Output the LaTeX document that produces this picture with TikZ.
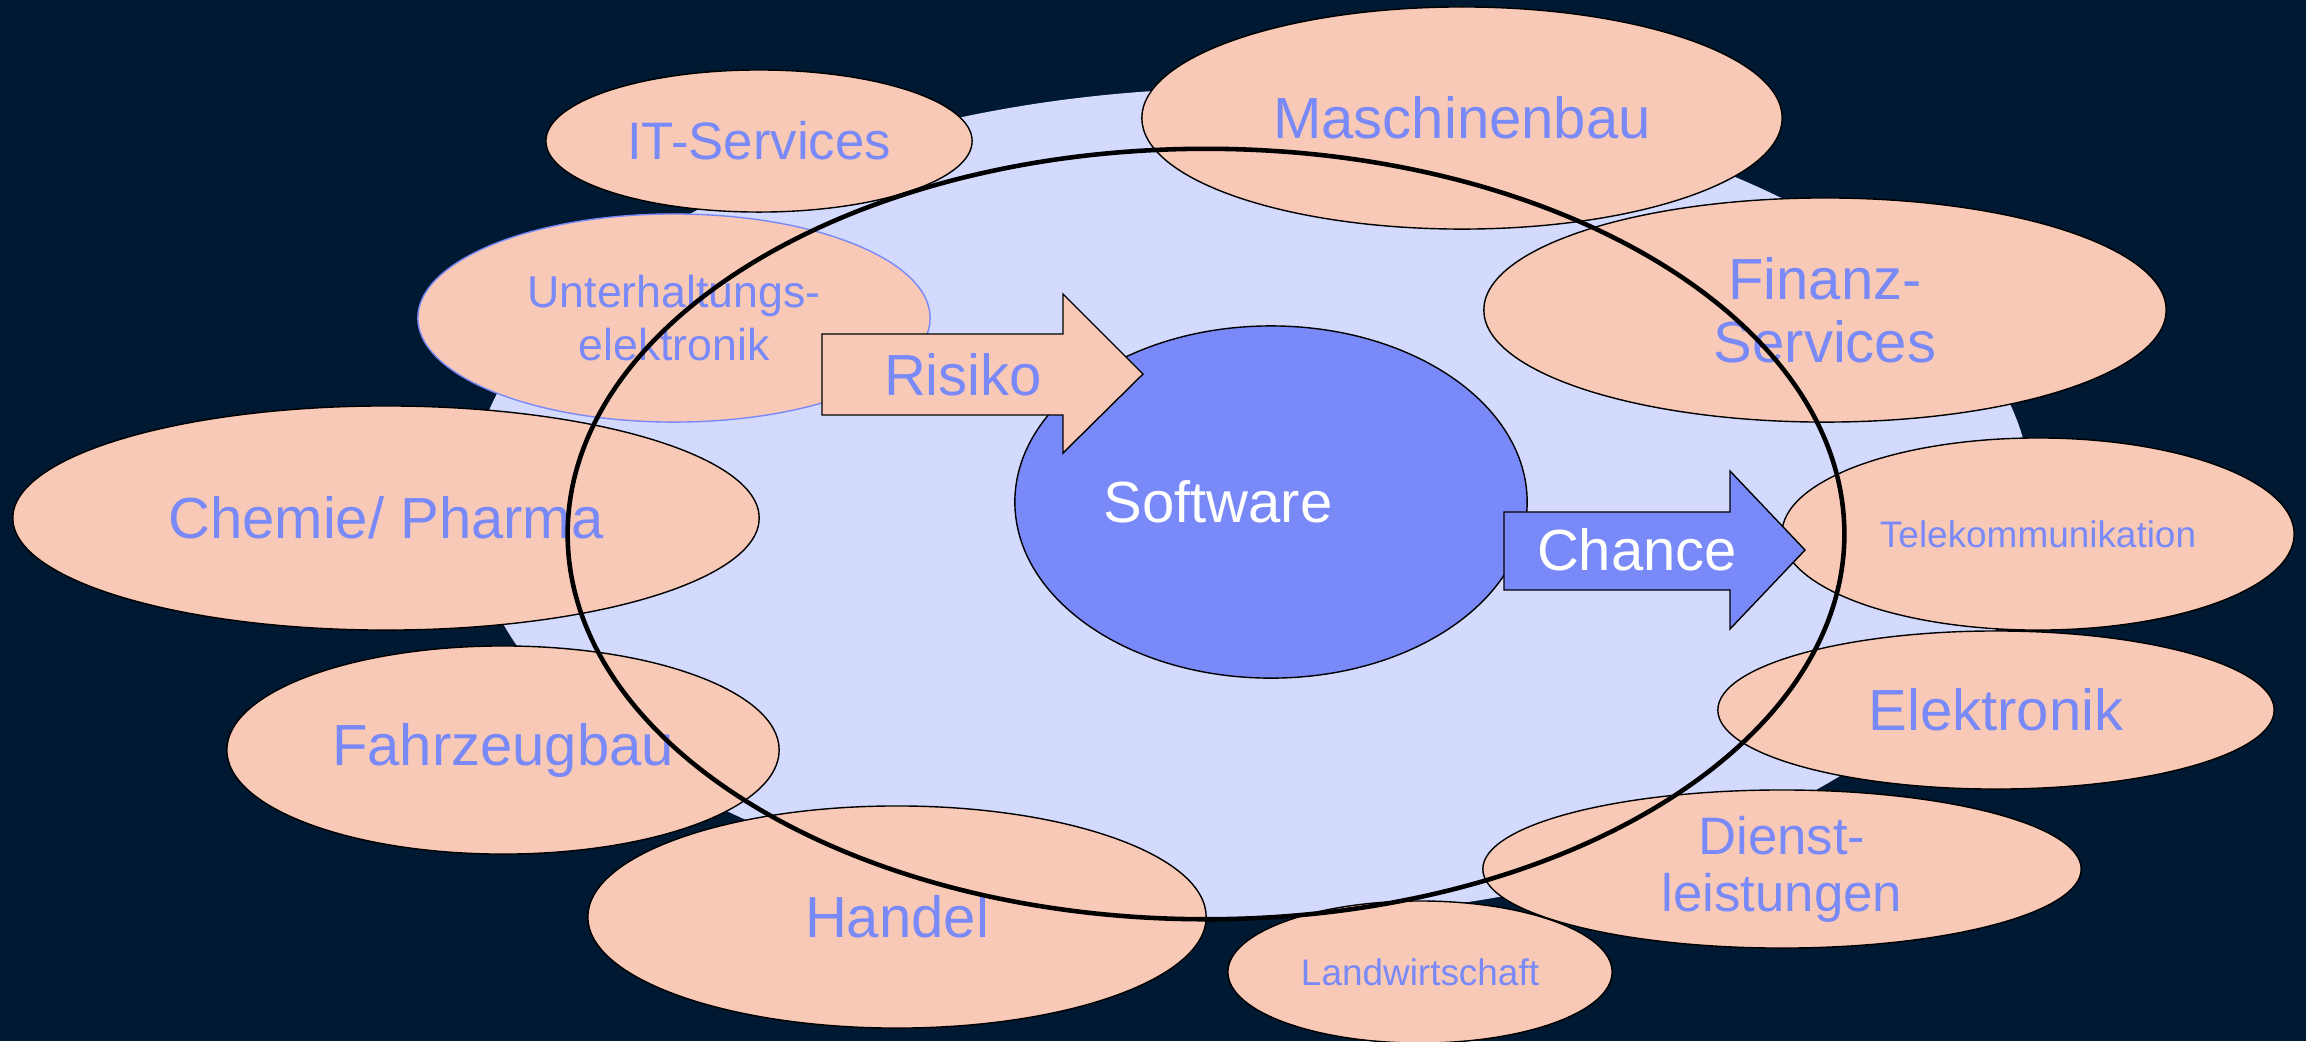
\documentclass[tikz,border=0pt]{standalone}
\usepackage{fontspec}
\setmainfont{Liberation Sans}
\usepackage{tikz}
\usetikzlibrary{shapes.geometric}
\usepackage{xcolor}

\definecolor{navy}{RGB}{0,25,51}
\definecolor{paleblue}{RGB}{212,218,254}
\definecolor{peach}{RGB}{248,201,182}
\definecolor{periwinkle}{RGB}{121,138,248}

\tikzset{
  branche/.style={ellipse, draw=black, thin, fill=peach, text=periwinkle, inner sep=0pt, align=center},
  big/.style={font=\fontsize{16.5}{18}\selectfont},
  mid/.style={font=\fontsize{15}{16.2}\selectfont},
  tiny/.style={font=\fontsize{10.5}{12}\selectfont},
  pfeil/.style={draw=black, thin, line join=miter}
}

\begin{document}
\begin{tikzpicture}[x=0.01cm, y=-0.01cm]

\fill[navy] (0,0) rectangle (2306,1041);
\useasboundingbox (0,0) rectangle (2306,1041);

\fill[paleblue] (1251,503) ellipse [x radius=7.81cm, y radius=4.15cm];

% Branchen rundherum
\node (unterh) at (674,318) [branche, draw=periwinkle, minimum width=5.12cm, minimum height=2.08cm, font=\fontsize{12.7}{15.1}\selectfont] {Unterhaltungs-\\elektronik};
\node (itserv) at (759,141) [branche, mid, minimum width=4.26cm, minimum height=1.42cm] {IT-Services};
\node (maschbau) at (1462,118) [branche, big, minimum width=6.40cm, minimum height=2.22cm] {Maschinenbau};
\node (finanz) at (1825,310) [branche, big, minimum width=6.82cm, minimum height=2.24cm] {Finanz-\\Services};
\node (chemie) at (386,518) [branche, big, minimum width=7.46cm, minimum height=2.24cm] {Chemie/ Pharma};
\node (telekom) at (2038,534) [branche, tiny, minimum width=5.12cm, minimum height=1.92cm] {Telekommunikation};
\node (elektr) at (1996,710) [branche, big, minimum width=5.56cm, minimum height=1.58cm] {Elektronik};
\node (fahrz) at (503,750) [branche, big, minimum width=5.52cm, minimum height=2.08cm] {Fahrzeugbau};
\node (handel) at (897,917) [branche, big, minimum width=6.18cm, minimum height=2.22cm] {Handel};
\node (landw) at (1420,972) [branche, tiny, minimum width=3.84cm, minimum height=1.42cm] {Landwirtschaft};
\node (dienst) at (1782,869) [branche, mid, minimum width=5.98cm, minimum height=1.58cm] {Dienst-\\leistungen};

% Mitte
\node (soft) at (1271,502) [ellipse, draw=black, thin, fill=periwinkle, minimum width=5.12cm, minimum height=3.52cm] {};
\node (softtext) at (1218,502) [big, text=white] {Software};

\draw[pfeil, fill=peach] (822,334)--++(241,0)--++(0,-40)--++(80,80)--++(-80,79)--++(0,-38)--++(-241,0)--cycle;
\node (risiko) at (963,375) [big, text=periwinkle] {Risiko};

\draw[pfeil, fill=periwinkle] (1504,512)--++(226,0)--++(0,-41)--++(75,79)--++(-75,79)--++(0,-39)--++(-226,0)--cycle;
\node (chance) at (1637,550) [big, text=white] {Chance};

\draw[black, line width=1.3pt] (1206,534) ellipse [x radius=6.38cm, y radius=3.85cm];

\end{tikzpicture}
\end{document}
